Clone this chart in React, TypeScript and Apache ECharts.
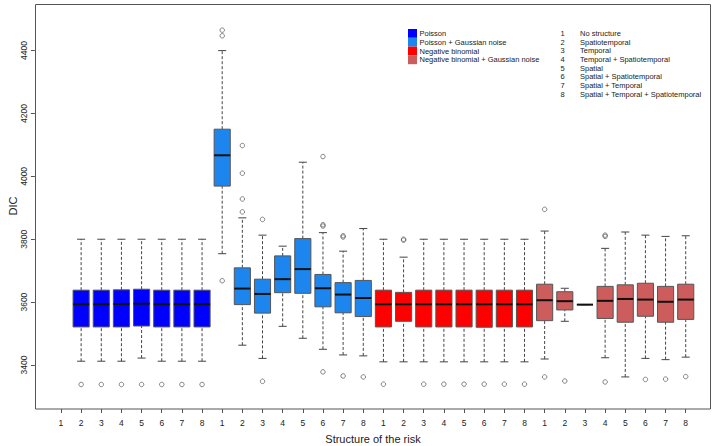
import React, { useEffect, useRef } from "react";
import * as echarts from "echarts";

// ---------- data ----------
const structureLabels = ["1", "2", "3", "4", "5", "6", "7", "8"];
const groupKeys = ["P", "PG", "NB", "NBG"];
const groupNames = [
  "Poisson",
  "Poisson + Gaussian noise",
  "Negative binomial",
  "Negative binomial + Gaussian noise",
];
const structureNames = [
  "No structure",
  "Spatiotemporal",
  "Temporal",
  "Temporal + Spatiotemporal",
  "Spatial",
  "Spatial + Spatiotemporal",
  "Spatial + Temporal",
  "Spatial + Temporal + Spatiotemporal",
];
const yTicks = [3400, 3600, 3800, 4000, 4200, 4400];

// [min, Q1, median, Q3, max] per structure (null = no box)
const poissonBoxes = [
  null,
  [3412, 3521, 3593, 3638, 3800],
  [3412, 3521, 3593, 3638, 3800],
  [3412, 3521, 3594, 3639, 3800],
  [3422, 3524, 3595, 3641, 3800],
  [3412, 3521, 3593, 3638, 3800],
  [3412, 3521, 3593, 3638, 3800],
  [3412, 3521, 3593, 3638, 3800],
];
const poissonGaussBoxes = [
  [3754, 3969, 4067, 4150, 4400],
  [3463, 3592, 3643, 3709, 3868],
  [3421, 3565, 3626, 3673, 3813],
  [3523, 3630, 3673, 3747, 3778],
  [3485, 3628, 3705, 3802, 4045],
  [3450, 3585, 3644, 3688, 3821],
  [3432, 3566, 3624, 3662, 3762],
  [3429, 3554, 3613, 3669, 3834],
];
const negBinBoxes = [
  [3410, 3521, 3593, 3638, 3800],
  [3410, 3539, 3593, 3631, 3743],
  [3410, 3521, 3593, 3638, 3800],
  [3410, 3521, 3593, 3638, 3800],
  [3410, 3521, 3593, 3638, 3800],
  [3410, 3520, 3593, 3638, 3800],
  [3410, 3521, 3593, 3638, 3800],
  [3410, 3521, 3593, 3638, 3800],
];
const negBinGaussBoxes = [
  [3419, 3541, 3606, 3657, 3826],
  [3539, 3575, 3603, 3633, 3644],
  [3592, 3592, 3592, 3592, 3592],
  [3423, 3548, 3604, 3650, 3771],
  [3362, 3536, 3610, 3655, 3823],
  [3421, 3555, 3608, 3660, 3813],
  [3417, 3536, 3601, 3650, 3809],
  [3425, 3545, 3608, 3657, 3811],
];

const poissonOutliers = [[], [3338], [3338], [3338], [3338], [3338], [3338], [3338]];
const poissonGaussOutliers = [
  [4465, 4447, 3668],
  [4098, 4010, 3928, 3887],
  [3863, 3348],
  [],
  [],
  [4063, 3846, 3842, 3378],
  [3811, 3807, 3365],
  [3362],
];
const negBinOutliers = [[3339], [3800, 3797], [3339], [3339], [3339], [3339], [3339], [3339]];
const negBinGaussOutliers = [
  [3895, 3362],
  [3349],
  [],
  [3813, 3809, 3346],
  [],
  [3354],
  [3355],
  [3363],
];

const groupColors = ["#0000FF", "#1C86EE", "#FF0000", "#CD5C5C"];

// ---------- derived ----------
const categories = groupKeys.flatMap((g) => structureLabels.map((s) => `${g}-${s}`));
const allBoxes = [poissonBoxes, poissonGaussBoxes, negBinBoxes, negBinGaussBoxes];
const allOutliers = [poissonOutliers, poissonGaussOutliers, negBinOutliers, negBinGaussOutliers];

const boxData: any[] = [];
allBoxes.forEach((grp, gi) =>
  grp.forEach((b, si) => {
    if (b) boxData.push([gi * 8 + si, ...b, gi]);
  })
);
const outlierData: any[] = [];
allOutliers.forEach((grp, gi) =>
  grp.forEach((list, si) => list.forEach((v) => outlierData.push([gi * 8 + si, v])))
);

const FONT = "'Liberation Sans', Arial, Helvetica, sans-serif";

export default function App() {
  const ref = useRef<HTMLDivElement>(null);
  useEffect(() => {
    const chart = echarts.init(ref.current!, null, { renderer: "svg" });

    const legendGraphics: any[] = [];
    groupNames.forEach((name, i) => {
      legendGraphics.push({
        type: "rect",
        shape: { x: 408, y: 29 + i * 8.8, width: 9, height: 8.8 },
        style: { fill: groupColors[i] },
      });
      legendGraphics.push({
        type: "text",
        x: 419.5,
        y: 33.4 + i * 8.8,
        style: {
          text: name,
          font: `7.5px ${FONT}`,
          fill: "#222",
          textVerticalAlign: "middle",
        },
      });
    });
    structureNames.forEach((name, i) => {
      legendGraphics.push({
        type: "text",
        x: 562.5,
        y: 33.4 + i * 8.7,
        style: {
          text: structureLabels[i],
          font: `7.5px ${FONT}`,
          fill: "#222",
          textAlign: "center",
          textVerticalAlign: "middle",
        },
      });
      legendGraphics.push({
        type: "text",
        x: 580,
        y: 33.4 + i * 8.7,
        style: {
          text: name,
          font: `7.5px ${FONT}`,
          fill: "#222",
          textVerticalAlign: "middle",
        },
      });
    });

    chart.setOption({
      animation: false,
      backgroundColor: "#fff",
      grid: { left: 50.9, right: 20.2, top: 4.7, bottom: 37, containLabel: false },
      xAxis: {
        type: "category",
        data: categories,
        boundaryGap: true,
        axisLine: { show: false },
        axisTick: { show: true, alignWithLabel: true, length: 4, lineStyle: { color: "#555" } },
        axisLabel: {
          interval: 0,
          margin: 9,
          fontSize: 8.5,
          fontFamily: FONT,
          color: "#222",
          formatter: (v: string) => v.split("-")[1],
        },
        splitLine: { show: false },
      },
      yAxis: {
        type: "value",
        min: 3260,
        max: 4546,
        offset: 16,
        axisLine: { show: false },
        axisTick: { show: true, length: 4, customValues: yTicks, lineStyle: { color: "#555" } },
        axisLabel: {
          customValues: yTicks,
          rotate: 90,
          margin: 6,
          fontSize: 8.5,
          fontFamily: FONT,
          color: "#222",
          formatter: (v: number) => String(v),
        },
        splitLine: { show: false },
      },
      series: [
        {
          type: "custom",
          data: boxData,
          encode: { x: 0, y: [1, 2, 3, 4, 5] },
          renderItem: (params: any, api: any) => {
            const x = api.value(0);
            const vals = [1, 2, 3, 4, 5].map((d) => api.value(d));
            const gi = api.value(6);
            const ys = vals.map((v: number) => api.coord([x, v])[1]);
            const cx = api.coord([x, vals[2]])[0];
            const band = api.size([1, 0])[0];
            const bw = band * 0.8;
            const cw = band * 0.4;
            const dash = { stroke: "#444", lineWidth: 1, lineDash: [3, 2] };
            const solid = { stroke: "#444", lineWidth: 1 };
            return {
              type: "group",
              children: [
                { type: "line", shape: { x1: cx, y1: ys[3], x2: cx, y2: ys[4] }, style: dash },
                { type: "line", shape: { x1: cx, y1: ys[0], x2: cx, y2: ys[1] }, style: dash },
                { type: "line", shape: { x1: cx - cw / 2, y1: ys[4], x2: cx + cw / 2, y2: ys[4] }, style: solid },
                { type: "line", shape: { x1: cx - cw / 2, y1: ys[0], x2: cx + cw / 2, y2: ys[0] }, style: solid },
                {
                  type: "rect",
                  shape: { x: cx - bw / 2, y: ys[3], width: bw, height: ys[1] - ys[3] },
                  style: { fill: groupColors[gi], stroke: "#555", lineWidth: 1 },
                },
                {
                  type: "line",
                  shape: { x1: cx - bw / 2, y1: ys[2], x2: cx + bw / 2, y2: ys[2] },
                  style: { stroke: "#111", lineWidth: 2 },
                },
              ],
            };
          },
          z: 2,
        },
        {
          type: "scatter",
          data: outlierData,
          symbol: "circle",
          symbolSize: 4.5,
          itemStyle: { color: "rgba(0,0,0,0)", borderColor: "#555", borderWidth: 0.9 },
          z: 3,
        },
      ],
      graphic: [
        {
          type: "rect",
          shape: { x: 35.5, y: 4.5, width: 675, height: 404.5 },
          style: { fill: "none", stroke: "#555", lineWidth: 1 },
          z: 10,
        },
        {
          type: "text",
          x: 13,
          y: 206,
          rotation: Math.PI / 2,
          style: {
            text: "DIC",
            font: `11px ${FONT}`,
            fill: "#222",
            textAlign: "center",
            textVerticalAlign: "middle",
          },
        },
        {
          type: "text",
          x: 373,
          y: 439,
          style: {
            text: "Structure of the risk",
            font: `11px ${FONT}`,
            fill: "#222",
            textAlign: "center",
            textVerticalAlign: "middle",
          },
        },
        ...legendGraphics,
      ],
    });
    return () => chart.dispose();
  }, []);
  return (
    <div
      ref={ref}
      style={{ position: "fixed", left: 0, top: 0, width: 716, height: 446 }}
    />
  );
}
